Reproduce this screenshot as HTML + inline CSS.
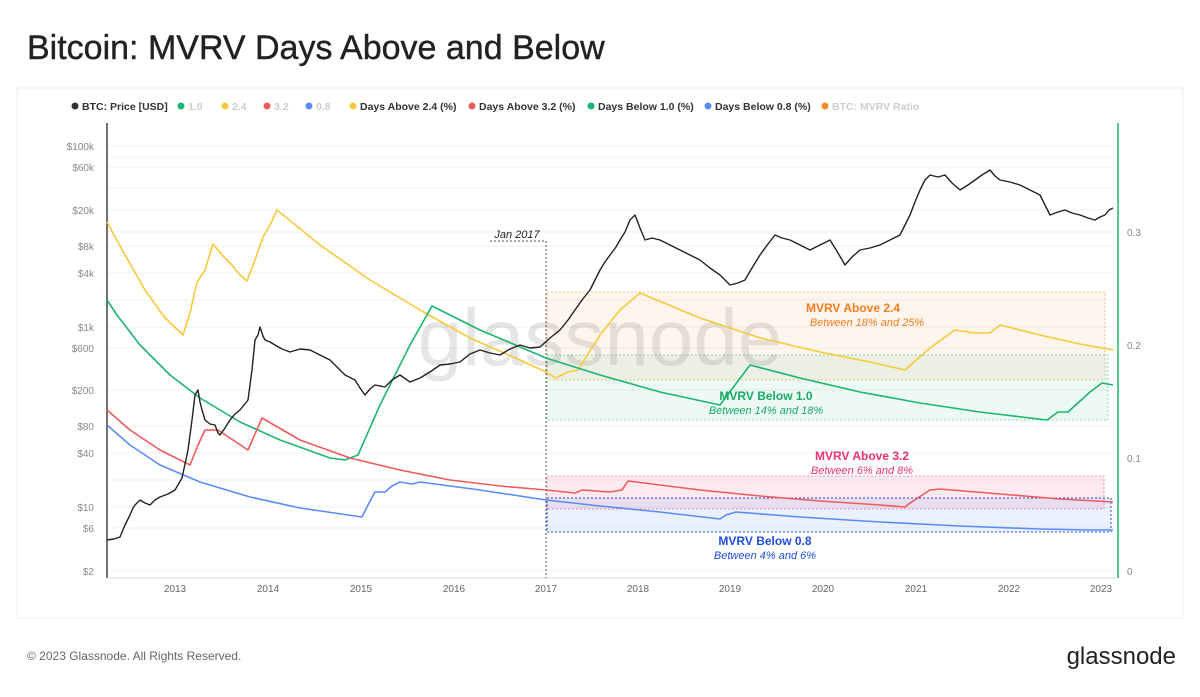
<!DOCTYPE html><html><head><meta charset="utf-8"><style>
body{margin:0;background:#fff;font-family:"Liberation Sans",sans-serif}
</style></head><body>
<svg width="1200" height="692" xmlns="http://www.w3.org/2000/svg" font-family="Liberation Sans, sans-serif">
<rect x="0" y="0" width="1200" height="692" fill="#fff"/>
<rect x="17" y="88" width="1166" height="530" fill="none" stroke="#eee"/>
<text x="27" y="59" font-size="34" fill="#222" stroke="#222" stroke-width="0.4">Bitcoin: MVRV Days Above and Below</text>
<g font-size="10.5" font-weight="bold">
<circle cx="75" cy="106" r="3.5" fill="#333"/><text x="82" y="110" fill="#333">BTC: Price [USD]</text>
<circle cx="181" cy="106" r="3.5" fill="#1db56f"/><text x="188" y="110" fill="#ccc">1.0</text>
<circle cx="225" cy="106" r="3.5" fill="#f8c93e"/><text x="232" y="110" fill="#ccc">2.4</text>
<circle cx="267" cy="106" r="3.5" fill="#f05b5b"/><text x="274" y="110" fill="#ccc">3.2</text>
<circle cx="309" cy="106" r="3.5" fill="#5b8cf5"/><text x="316" y="110" fill="#ccc">0.8</text>
<circle cx="353" cy="106" r="3.5" fill="#f8c93e"/><text x="360" y="110" fill="#333">Days Above 2.4 (%)</text>
<circle cx="472" cy="106" r="3.5" fill="#f05b5b"/><text x="479" y="110" fill="#333">Days Above 3.2 (%)</text>
<circle cx="591" cy="106" r="3.5" fill="#1db56f"/><text x="598" y="110" fill="#333">Days Below 1.0 (%)</text>
<circle cx="708" cy="106" r="3.5" fill="#5b8cf5"/><text x="715" y="110" fill="#333">Days Below 0.8 (%)</text>
<circle cx="825" cy="106" r="3.5" fill="#f58a23"/><text x="832" y="110" fill="#ccc">BTC: MVRV Ratio</text>
</g>
<g stroke="#f1f1f1" stroke-width="1">
<line x1="107" x2="1112" y1="146" y2="146"/><line x1="107" x2="1112" y1="157" y2="157"/><line x1="107" x2="1112" y1="167" y2="167"/><line x1="107" x2="1112" y1="188" y2="188"/><line x1="107" x2="1112" y1="210" y2="210"/><line x1="107" x2="1112" y1="232" y2="232"/><line x1="107" x2="1112" y1="246" y2="246"/><line x1="107" x2="1112" y1="273" y2="273"/><line x1="107" x2="1112" y1="300" y2="300"/><line x1="107" x2="1112" y1="327" y2="327"/><line x1="107" x2="1112" y1="348" y2="348"/><line x1="107" x2="1112" y1="390" y2="390"/><line x1="107" x2="1112" y1="426" y2="426"/><line x1="107" x2="1112" y1="453" y2="453"/><line x1="107" x2="1112" y1="480" y2="480"/><line x1="107" x2="1112" y1="507" y2="507"/><line x1="107" x2="1112" y1="528" y2="528"/><line x1="107" x2="1112" y1="571" y2="571"/>
</g>
<line x1="107" y1="123" x2="107" y2="578" stroke="#444" stroke-width="1.5"/>
<line x1="1118" y1="123" x2="1118" y2="578" stroke="#1db56f" stroke-width="1.5"/>
<line x1="107" y1="578" x2="1118" y2="578" stroke="#ddd"/>
<g font-size="10" fill="#888" text-anchor="end">
<text x="94" y="150">$100k</text><text x="94" y="171">$60k</text><text x="94" y="214">$20k</text><text x="94" y="250">$8k</text><text x="94" y="277">$4k</text><text x="94" y="331">$1k</text><text x="94" y="352">$600</text><text x="94" y="394">$200</text><text x="94" y="430">$80</text><text x="94" y="457">$40</text><text x="94" y="511">$10</text><text x="94" y="532">$6</text><text x="94" y="575">$2</text>
</g>
<g font-size="10" fill="#888">
<text x="1127" y="236">0.3</text><text x="1127" y="349">0.2</text><text x="1127" y="462">0.1</text><text x="1127" y="575">0</text>
</g>
<g font-size="10" fill="#666" text-anchor="middle">
<text x="175" y="592">2013</text><text x="268" y="592">2014</text><text x="361" y="592">2015</text><text x="454" y="592">2016</text><text x="546" y="592">2017</text><text x="638" y="592">2018</text><text x="730" y="592">2019</text><text x="823" y="592">2020</text><text x="916" y="592">2021</text><text x="1009" y="592">2022</text><text x="1101" y="592">2023</text>
</g>
<text x="600" y="365" font-size="80" fill="#000" fill-opacity="0.1" text-anchor="middle">glassnode</text>
<rect x="547" y="292" width="558" height="88" fill="#f58a23" fill-opacity="0.08" stroke="#f58a23" stroke-opacity="0.5" stroke-dasharray="2,2"/>
<rect x="547" y="355" width="561" height="65" fill="#1db56f" fill-opacity="0.08" stroke="#1db56f" stroke-opacity="0.5" stroke-dasharray="2,2"/>
<rect x="547" y="476" width="557" height="33" fill="#f0336b" fill-opacity="0.1" stroke="#f0336b" stroke-opacity="0.5" stroke-dasharray="2,2"/>
<rect x="547" y="498" width="564" height="34" fill="#3b6cf5" fill-opacity="0.1" stroke="#1f4fe0" stroke-dasharray="2,2"/>
<polyline fill="none" stroke="#555" stroke-dasharray="2,2" points="490,241 546,241 546,578"/>
<text x="517" y="238" font-size="11" font-style="italic" fill="#222" text-anchor="middle">Jan 2017</text>
<g fill="none" stroke-width="1.6" stroke-linejoin="round">
<polyline stroke="#f8c93e" points="107,222 125,255 145,290 165,318 183,335 190,313 197,282 205,270 213,244 222,255 232,265 240,275 247,281 255,260 263,237 270,225 277,210 320,245 370,280 420,310 470,338 520,360 546,372 556,378 568,372 578,370 600,335 620,310 640,293 700,318 760,338 820,352 870,362 905,370 930,348 955,330 975,333 990,333 1000,325 1040,335 1080,344 1113,350"/>
<polyline stroke="#1db56f" points="107,300 117,315 140,345 170,375 200,398 240,422 280,440 330,458 345,460 358,455 380,405 410,345 432,306 480,330 546,358 600,375 660,392 720,405 735,385 750,365 800,378 860,392 920,403 980,412 1047,420 1058,412 1068,412 1090,392 1102,383 1113,385"/>
<polyline stroke="#f05b5b" points="107,410 130,430 160,450 190,465 198,445 205,430 218,430 230,438 248,450 262,418 300,440 350,458 400,470 450,480 500,486 546,490 575,493 582,490 610,492 622,490 628,481 700,490 760,496 820,501 880,505 905,507 910,503 930,490 940,489 1000,494 1060,499 1113,502"/>
<polyline stroke="#5b8cf5" points="107,425 130,445 160,465 200,482 250,497 300,508 362,517 368,505 375,492 385,492 392,486 400,482 412,484 420,482 480,490 546,500 600,506 660,512 720,519 726,515 736,512 800,517 880,522 960,526 1040,529 1090,530 1113,530"/>
<polyline stroke="#222" stroke-width="1.4" points="107,540 114,539 120,537 125,525 130,515 133,508 135,505 140,500 145,503 150,505 155,500 160,497 168,494 175,490 182,478 188,450 192,420 195,395 198,390 200,402 202,410 205,420 210,424 215,425 218,433 220,435 225,428 230,420 235,414 240,410 248,400 252,370 255,340 258,335 260,327 263,336 265,340 270,342 275,345 282,349 290,352 300,349 310,350 320,355 330,360 338,368 345,375 355,380 360,388 365,395 370,389 375,385 385,387 392,380 400,375 410,382 420,378 430,372 440,365 450,364 460,362 470,354 480,350 490,353 500,355 510,349 520,345 530,348 540,347 550,338 560,330 568,320 575,310 582,300 590,290 595,280 600,270 605,262 610,255 616,247 620,240 625,232 630,220 635,215 640,228 645,240 652,238 660,240 670,245 680,250 690,255 700,260 710,268 720,275 725,280 730,285 738,283 745,280 752,268 760,255 768,244 775,235 782,238 790,240 800,245 810,250 820,245 830,240 838,253 845,265 852,257 860,250 870,248 880,245 890,240 900,235 905,225 910,215 915,202 920,190 925,180 930,175 938,177 945,175 952,183 960,190 968,185 975,180 982,175 990,170 995,176 1000,180 1010,182 1020,185 1030,190 1040,195 1045,205 1050,215 1058,212 1065,210 1072,213 1080,215 1088,218 1095,220 1100,217 1105,215 1109,210 1113,208"/>
</g>
<g text-anchor="middle">
<text x="853" y="312" font-size="12" font-weight="bold" fill="#f57c1f">MVRV Above 2.4</text>
<text x="867" y="326" font-size="11" font-style="italic" fill="#f57c1f">Between 18% and 25%</text>
<text x="766" y="400" font-size="12" font-weight="bold" fill="#1aa866">MVRV Below 1.0</text>
<text x="766" y="414" font-size="11" font-style="italic" fill="#1aa866">Between 14% and 18%</text>
<text x="862" y="460" font-size="12" font-weight="bold" fill="#f0336b">MVRV Above 3.2</text>
<text x="862" y="474" font-size="11" font-style="italic" fill="#f0336b">Between 6% and 8%</text>
<text x="765" y="545" font-size="12" font-weight="bold" fill="#1f4fe0">MVRV Below 0.8</text>
<text x="765" y="559" font-size="11" font-style="italic" fill="#1f4fe0">Between 4% and 6%</text>
</g>
<text x="27" y="660" font-size="12" fill="#666">© 2023 Glassnode. All Rights Reserved.</text>
<text x="1176" y="664" font-size="24" fill="#222" text-anchor="end">glassnode</text>
</svg>
</body></html>
